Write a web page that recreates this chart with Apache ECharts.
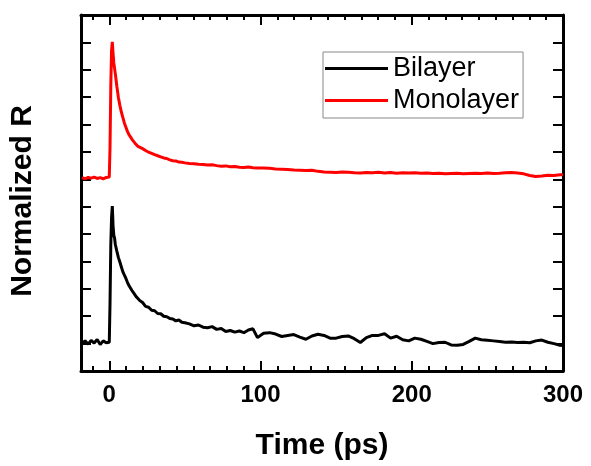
<!DOCTYPE html>
<html>
<head>
<meta charset="utf-8">
<script src="https://cdn.jsdelivr.net/npm/echarts@6/dist/echarts.min.js"></script>
<style>html,body{margin:0;padding:0;background:#fff;}#c{width:591px;height:466px;}</style>
</head>
<body>
<div id="c"></div>
<script>
// ---- data ----
const seriesNames = ['Bilayer', 'Monolayer'];
const xTickLabels = [0, 100, 200, 300];
const time = [
  -18,-16,-14,-12,-10,-8,-6,-4,-2,-1,
  0,0.5,1,1.5,2,2.5,3,3.5,4,5,6,7,8,9,10,11,12,13,14,15,16,17,18,19,20,
  22,24,26,28,30,32,34,36,38,40,42,44,46,48,50,
  53,56,59,62,65,68,71,74,77,80,83,86,89,92,95,98,
  102,106,110,114,118,122,126,130,134,138,142,146,150,154,158,162,166,170,174,178,
  182,186,190,194,198,202,206,210,214,218,222,226,230,234,238,242,246,250,254,258,
  262,266,270,274,278,282,286,290,294,298,300
];
const bilayer = [
  1.0,1.1,0.98,1.12,1.02,1.15,0.97,1.1,1.03,1.08,
  1.05,2.5,4.6,5.6,6.02,5.3,4.95,4.85,4.62,4.38,4.15,3.98,3.8,3.62,3.5,3.38,3.24,3.12,3.05,2.94,2.88,2.78,2.7,2.64,2.58,
  2.5,2.36,2.33,2.22,2.2,2.1,2.09,2.0,1.98,1.92,1.9,1.83,1.86,1.78,1.76,
  1.72,1.65,1.68,1.6,1.58,1.62,1.52,1.55,1.44,1.48,1.42,1.46,1.4,1.5,1.54,1.22,
  1.38,1.4,1.35,1.26,1.3,1.33,1.24,1.16,1.28,1.34,1.3,1.2,1.2,1.26,1.28,1.18,1.04,1.22,1.3,1.3,
  1.36,1.2,1.27,1.14,1.1,1.2,1.16,1.08,1.0,1.04,1.05,0.95,0.94,0.97,1.08,1.2,1.14,1.12,1.1,1.08,
  1.05,1.06,1.04,1.05,1.03,1.1,1.13,1.05,1.0,0.94,0.93
];
const monolayer = [
  7.06,7.02,7.07,7.04,7.08,7.03,7.06,7.02,7.07,7.04,
  7.08,8.2,10.4,11.7,12.02,11.6,11.25,11.05,10.85,10.4,10.0,9.7,9.45,9.25,9.05,8.9,8.75,8.63,8.55,8.46,8.39,8.32,8.26,8.2,8.17,
  8.12,8.05,7.99,7.95,7.9,7.86,7.82,7.78,7.76,7.71,7.68,7.67,7.63,7.62,7.6,
  7.58,7.57,7.55,7.54,7.52,7.53,7.5,7.48,7.49,7.46,7.47,7.44,7.43,7.45,7.42,7.41,
  7.41,7.4,7.38,7.37,7.36,7.34,7.33,7.32,7.33,7.29,7.27,7.26,7.25,7.27,7.26,7.24,7.23,7.25,7.24,7.26,
  7.23,7.25,7.22,7.24,7.23,7.24,7.22,7.23,7.21,7.22,7.2,7.21,7.22,7.2,7.21,7.22,7.21,7.23,7.21,7.22,
  7.24,7.25,7.23,7.2,7.14,7.1,7.12,7.15,7.14,7.17,7.17
];

// ---- chart ----
const FONT = '"Liberation Sans", Arial, Helvetica, sans-serif';
const XMIN = -18.7, XMAX = 300;
const minorX = [];
for (let k = -1; k <= 27; k++) { if (k % 9 !== 0) minorX.push(+(k * 100 / 9).toFixed(3)); }

const pairs = (arr) => time.map((t, i) => [t, arr[i]]);
const lineAx = { show: true, onZero: false, lineStyle: { color: '#000', width: 3 } };
const noLine = { show: false, onZero: false };

const chart = echarts.init(document.getElementById('c'), null, { renderer: 'canvas' });
chart.setOption({
  animation: false,
  backgroundColor: '#fff',
  grid: { left: 81, right: 28, top: 15, bottom: 94, containLabel: false },
  legend: {
    orient: 'vertical', left: 323, top: 52,
    data: seriesNames,
    icon: 'rect',
    itemWidth: 63, itemHeight: 3, itemGap: 5,
    padding: [3, 4, 4, 2],
    borderColor: '#888', borderWidth: 1,
    textStyle: { fontFamily: FONT, fontSize: 27, color: '#000' }
  },
  xAxis: [
    { type: 'value', min: XMIN, max: XMAX, position: 'bottom',
      axisLine: lineAx, splitLine: { show: false },
      axisTick: { inside: true, length: 10, lineStyle: { width: 2, color: '#000' }, customValues: xTickLabels },
      axisLabel: { customValues: xTickLabels, fontFamily: FONT, fontWeight: 'bold', fontSize: 24, color: '#000', margin: 12 },
      name: 'Time (ps)', nameLocation: 'middle', nameGap: 60,
      nameTextStyle: { fontFamily: FONT, fontWeight: 'bold', fontSize: 30, color: '#000' } },
    { type: 'value', min: XMIN, max: XMAX, position: 'bottom',
      axisLine: noLine, splitLine: { show: false },
      axisTick: { inside: true, length: 5, lineStyle: { width: 2, color: '#000' }, customValues: minorX },
      axisLabel: { show: false } },
    { type: 'value', min: XMIN, max: XMAX, position: 'top',
      axisLine: lineAx, splitLine: { show: false },
      axisTick: { inside: true, length: 10, lineStyle: { width: 2, color: '#000' }, customValues: xTickLabels },
      axisLabel: { show: false } },
    { type: 'value', min: XMIN, max: XMAX, position: 'top',
      axisLine: noLine, splitLine: { show: false },
      axisTick: { inside: true, length: 5, lineStyle: { width: 2, color: '#000' }, customValues: minorX },
      axisLabel: { show: false } }
  ],
  yAxis: [
    { type: 'value', min: 0, max: 13, interval: 1, position: 'left',
      axisLine: lineAx, splitLine: { show: false },
      axisTick: { inside: true, length: 10, lineStyle: { width: 2, color: '#000' } },
      axisLabel: { show: false },
      name: 'Normalized R', nameLocation: 'middle', nameGap: 43,
      nameTextStyle: { fontFamily: FONT, fontWeight: 'bold', fontSize: 30, color: '#000', padding: [0, 16, 0, 0] } },
    { type: 'value', min: 0, max: 13, interval: 1, position: 'right',
      axisLine: lineAx, splitLine: { show: false },
      axisTick: { inside: true, length: 10, lineStyle: { width: 2, color: '#000' } },
      axisLabel: { show: false } }
  ],
  series: [
    { name: seriesNames[0], type: 'line', xAxisIndex: 0, yAxisIndex: 0, symbol: 'none',
      data: pairs(bilayer), lineStyle: { color: '#000', width: 3 }, itemStyle: { color: '#000' } },
    { name: seriesNames[1], type: 'line', xAxisIndex: 0, yAxisIndex: 0, symbol: 'none',
      data: pairs(monolayer), lineStyle: { color: '#ff0000', width: 3 }, itemStyle: { color: '#ff0000' } }
  ]
});
</script>
</body>
</html>
